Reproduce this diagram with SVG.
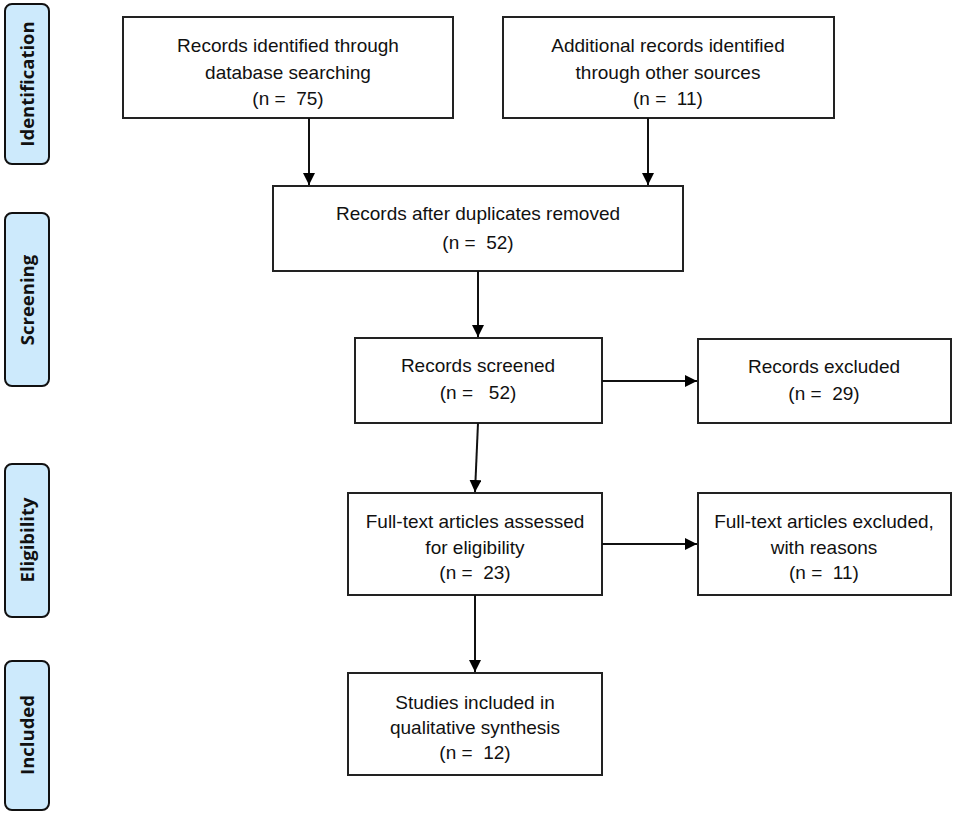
<svg xmlns="http://www.w3.org/2000/svg" width="957" height="814" viewBox="0 0 957 814">
<defs>
<marker id="arr" viewBox="0 0 10 10" refX="10" refY="5" markerWidth="6" markerHeight="6" markerUnits="strokeWidth" orient="auto">
<path d="M0,0 L10,5 L0,10 Z" fill="#000"/>
</marker>
<style>
.box{fill:#fff;stroke:#222;stroke-width:2}
.lab{fill:#cdeafc;stroke:#111;stroke-width:2}
.t{font-family:"Liberation Sans","Open Sans",Arial,sans-serif;font-size:19px;fill:#111;text-anchor:middle;white-space:pre}
.s{font-family:"Open Sans","Liberation Sans",Arial,sans-serif;font-size:18.5px;font-weight:bold;fill:#111;text-anchor:middle}
.c{fill:none;stroke:#111;stroke-width:2}
</style>
</defs>
<rect width="957" height="814" fill="#fff"/>
<g id="stage-identification"><rect class="lab" x="5" y="4" width="44" height="160" rx="7"/><text class="s" transform="translate(34,84) rotate(-90)">Identification</text></g>
<g id="stage-screening"><rect class="lab" x="5" y="213" width="44" height="173" rx="7"/><text class="s" transform="translate(34,300) rotate(-90)">Screening</text></g>
<g id="stage-eligibility"><rect class="lab" x="5" y="464" width="44" height="153" rx="7"/><text class="s" transform="translate(34,540) rotate(-90)">Eligibility</text></g>
<g id="stage-included"><rect class="lab" x="5" y="661" width="44" height="149" rx="7"/><text class="s" transform="translate(34,735) rotate(-90)">Included</text></g>
<g id="n1"><rect class="box" x="123" y="17" width="330" height="101"/><text class="t" x="288" y="52">Records identified through</text><text class="t" x="288" y="79">database searching</text><text class="t" x="288" y="105">(n =  75)</text></g>
<g id="n2"><rect class="box" x="503" y="17" width="331" height="101"/><text class="t" x="668" y="52">Additional records identified</text><text class="t" x="668" y="79">through other sources</text><text class="t" x="668" y="105">(n =  11)</text></g>
<g id="n3"><rect class="box" x="273" y="186" width="410" height="85"/><text class="t" x="478" y="220">Records after duplicates removed</text><text class="t" x="478" y="249">(n =  52)</text></g>
<g id="n4"><rect class="box" x="355" y="338" width="247" height="85"/><text class="t" x="478" y="372">Records screened</text><text class="t" x="478" y="399">(n =   52)</text></g>
<g id="n5"><rect class="box" x="698" y="339" width="253" height="84"/><text class="t" x="824" y="373">Records excluded</text><text class="t" x="824" y="400">(n =  29)</text></g>
<g id="n6"><rect class="box" x="348" y="493" width="254" height="102"/><text class="t" x="475" y="528">Full-text articles assessed</text><text class="t" x="475" y="554">for eligibility</text><text class="t" x="475" y="579">(n =  23)</text></g>
<g id="n7"><rect class="box" x="698" y="493" width="253" height="102"/><text class="t" x="824" y="528">Full-text articles excluded,</text><text class="t" x="824" y="554">with reasons</text><text class="t" x="824" y="579">(n =  11)</text></g>
<g id="n8"><rect class="box" x="348" y="673" width="254" height="102"/><text class="t" x="475" y="709">Studies included in</text><text class="t" x="475" y="734">qualitative synthesis</text><text class="t" x="475" y="759">(n =  12)</text></g>
<g id="connectors">
<line class="c" x1="309" y1="118" x2="309" y2="185" marker-end="url(#arr)"/>
<line class="c" x1="648" y1="118" x2="648" y2="185" marker-end="url(#arr)"/>
<line class="c" x1="478" y1="271" x2="478" y2="337" marker-end="url(#arr)"/>
<line class="c" x1="602" y1="381" x2="697" y2="381" marker-end="url(#arr)"/>
<line class="c" x1="478" y1="423" x2="475" y2="492" marker-end="url(#arr)"/>
<line class="c" x1="602" y1="544" x2="697" y2="544" marker-end="url(#arr)"/>
<line class="c" x1="475" y1="595" x2="475" y2="672" marker-end="url(#arr)"/>
</g>
</svg>
